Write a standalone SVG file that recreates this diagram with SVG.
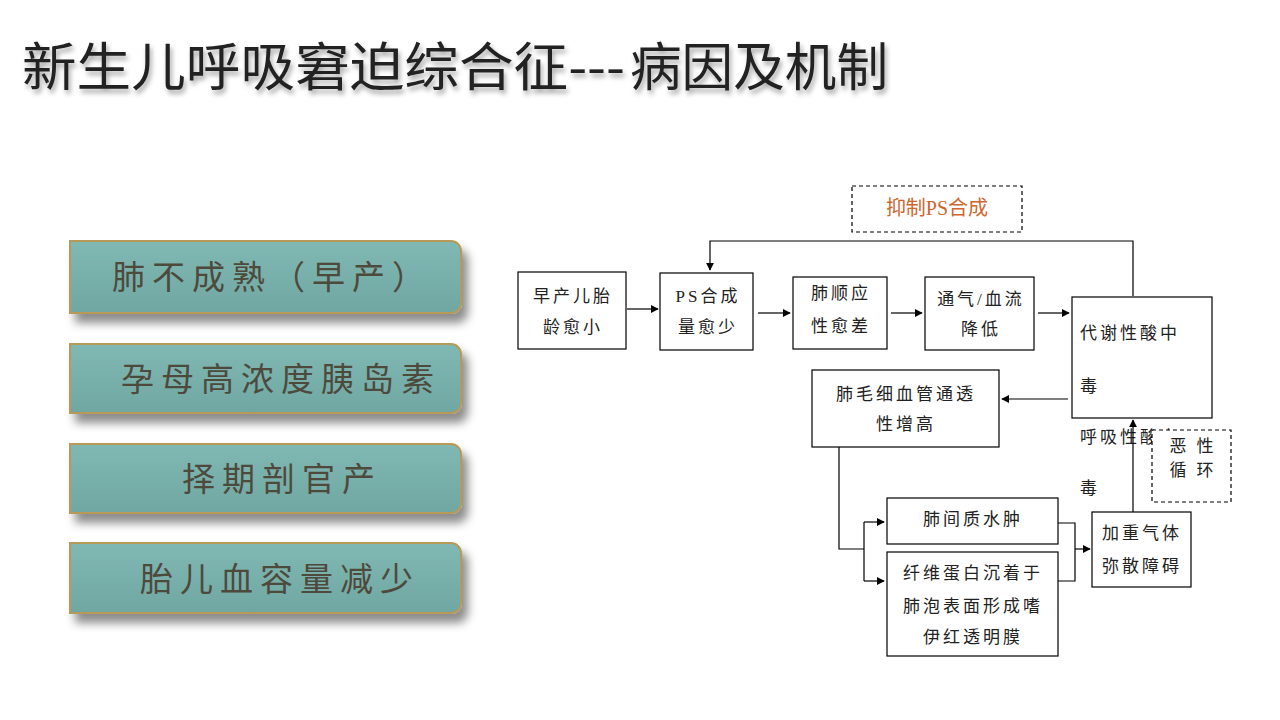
<svg xmlns="http://www.w3.org/2000/svg" width="1280" height="720" viewBox="0 0 1280 720">
<defs>
<linearGradient id="teal" x1="0" y1="0" x2="0" y2="1">
<stop offset="0" stop-color="#80b8b4"/>
<stop offset="1" stop-color="#70a7a3"/>
</linearGradient>
<filter id="sh" x="-10%" y="-30%" width="125%" height="180%">
<feDropShadow dx="6" dy="9" stdDeviation="5" flood-color="#000" flood-opacity="0.45"/>
</filter>
<filter id="tsh" x="-5%" y="-30%" width="110%" height="170%">
<feDropShadow dx="2" dy="4" stdDeviation="2.5" flood-color="#000" flood-opacity="0.35"/>
</filter>
<marker id="arr" viewBox="0 0 10 10" refX="9" refY="5" markerWidth="8" markerHeight="8" markerUnits="userSpaceOnUse" orient="auto">
<path d="M0,0 L10,5 L0,10 z" fill="#000"/>
</marker>
</defs>
<style>
.cause{fill:url(#teal);stroke:#b89a58;stroke-width:2;filter:url(#sh)}
.ct{font-family:"Noto Sans CJK SC",sans-serif;font-size:33px;fill:#4d4a3c;letter-spacing:7px;text-anchor:middle}
.box{fill:#fff;stroke:#000;stroke-width:1.2}
.dash{fill:#fff;stroke:#000;stroke-width:1.2;stroke-dasharray:4 3}
.t{font-family:"Liberation Serif","Noto Sans CJK SC",serif;font-size:17px;fill:#222;letter-spacing:3px;text-anchor:middle}
.tl{font-family:"Liberation Serif","Noto Sans CJK SC",serif;font-size:17px;fill:#222;letter-spacing:3px}
.ln{fill:none;stroke:#000;stroke-width:1.2}
.la{fill:none;stroke:#000;stroke-width:1.2;marker-end:url(#arr)}
</style>

<g id="title">
<text x="22" y="86" font-family="'Noto Sans CJK SC',sans-serif" font-size="52" fill="#222" filter="url(#tsh)" textLength="603" lengthAdjust="spacingAndGlyphs">新生儿呼吸窘迫综合征---</text>
<text x="630" y="86" font-family="'Noto Sans CJK SC',sans-serif" font-size="52" fill="#222" filter="url(#tsh)" textLength="258" lengthAdjust="spacingAndGlyphs">病因及机制</text>
</g>

<g id="cause1">
<path class="cause" d="M70,241 H451 A10,10 0 0 1 461,251 V303 A10,10 0 0 1 451,313 H70 Z"/>
<text class="ct" x="272" y="289">肺不成熟（早产）</text>
</g>
<g id="cause2">
<path class="cause" d="M70,344 H451 A10,10 0 0 1 461,354 V403 A10,10 0 0 1 451,413 H70 Z"/>
<text class="ct" x="281" y="391">孕母高浓度胰岛素</text>
</g>
<g id="cause3">
<path class="cause" d="M70,444 H451 A10,10 0 0 1 461,454 V503 A10,10 0 0 1 451,513 H70 Z"/>
<text class="ct" x="282" y="491">择期剖官产</text>
</g>
<g id="cause4">
<path class="cause" d="M70,543 H451 A10,10 0 0 1 461,553 V603 A10,10 0 0 1 451,613 H70 Z"/>
<text class="ct" x="280" y="591">胎儿血容量减少</text>
</g>

<g id="connectors">
<line class="la" x1="627" y1="309" x2="658" y2="309"/>
<line class="la" x1="758" y1="313" x2="790" y2="313"/>
<line class="la" x1="891" y1="313" x2="922" y2="313"/>
<line class="la" x1="1038" y1="313" x2="1069" y2="313"/>
<path class="la" d="M1133,296 V241 H710 V270"/>
<line class="la" x1="1068" y1="399" x2="1002" y2="399"/>
<path class="ln" d="M839,447 V549 H864"/>
<path class="ln" d="M864,522 V581"/>
<line class="la" x1="864" y1="522" x2="884" y2="522"/>
<line class="la" x1="864" y1="581" x2="884" y2="581"/>
<path class="ln" d="M1058,523 H1075 V581 H1058"/>
<line class="la" x1="1075" y1="549" x2="1090" y2="549"/>
</g>

<g id="nodeA">
<rect class="box" x="518" y="272" width="108" height="77"/>
<text class="t" x="573" y="302">早产儿胎</text>
<text class="t" x="573" y="333">龄愈小</text>
</g>
<g id="nodeB">
<rect class="box" x="660" y="273" width="93" height="77"/>
<text class="t" x="708" y="302">PS合成</text>
<text class="t" x="708" y="333">量愈少</text>
</g>
<g id="nodeC">
<rect class="box" x="793" y="277" width="94" height="72"/>
<text class="t" x="841" y="299">肺顺应</text>
<text class="t" x="841" y="332">性愈差</text>
</g>
<g id="nodeD">
<rect class="box" x="925" y="277" width="109" height="73"/>
<text class="t" x="981" y="305">通气/血流</text>
<text class="t" x="981" y="335">降低</text>
</g>
<g id="nodeE">
<rect class="box" x="1072" y="297" width="140" height="121"/>
<text class="tl" x="1080" y="339">代谢性酸中</text>
<text class="tl" x="1080" y="392">毒</text>
</g>
<g id="respAcid">
<text class="tl" x="1080" y="443">呼吸性酸中</text>
<text class="tl" x="1080" y="494">毒</text>
</g>
<g id="vicious">
<rect class="dash" x="1152" y="430" width="79" height="72"/>
<text class="t" x="1193" y="452">恶 性</text>
<text class="t" x="1193" y="476">循 环</text>
</g>
<g id="upArrow">
<line class="la" x1="1133" y1="512" x2="1133" y2="420"/>
</g>
<g id="inhibit">
<rect class="dash" x="852" y="186" width="170" height="46"/>
<text x="937" y="215" font-family="'Liberation Serif','Noto Sans CJK SC',serif" font-size="20" fill="#d0662c" text-anchor="middle">抑制PS合成</text>
</g>
<g id="nodeF">
<rect class="box" x="812" y="370" width="187" height="77"/>
<text class="t" x="906" y="400">肺毛细血管通透</text>
<text class="t" x="906" y="430">性增高</text>
</g>
<g id="nodeG">
<rect class="box" x="887" y="498" width="171" height="46"/>
<text class="t" x="973" y="525">肺间质水肿</text>
</g>
<g id="nodeH">
<rect class="box" x="887" y="552" width="171" height="104"/>
<text class="t" x="973" y="579">纤维蛋白沉着于</text>
<text class="t" x="973" y="612">肺泡表面形成嗜</text>
<text class="t" x="973" y="643">伊红透明膜</text>
</g>
<g id="nodeI">
<rect class="box" x="1092" y="512" width="99" height="75"/>
<text class="t" x="1142" y="539">加重气体</text>
<text class="t" x="1142" y="572">弥散障碍</text>
</g>
</svg>
